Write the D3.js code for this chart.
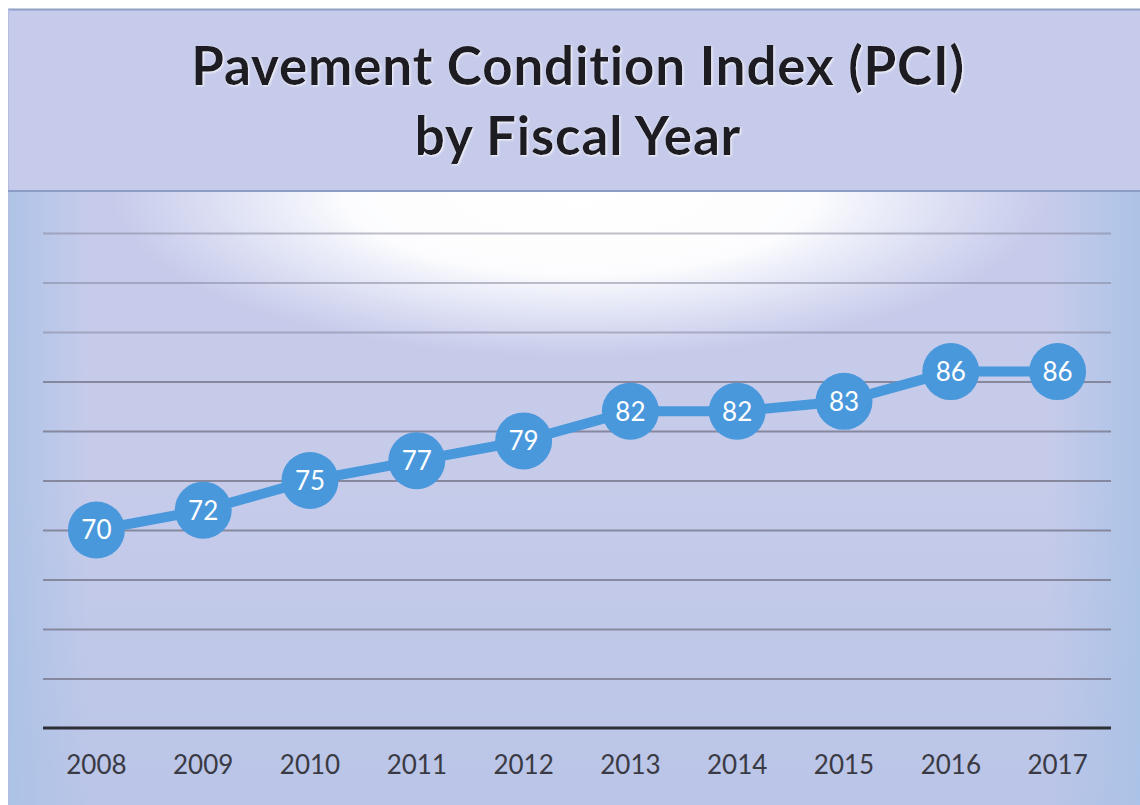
<!DOCTYPE html>
<html>
<head>
<meta charset="utf-8">
<script src="https://cdn.jsdelivr.net/npm/d3@7"></script>
<style>
  body { margin: 0; background: #fff; }
  svg { display: block; }
</style>
</head>
<body>
<svg width="1140" height="805"></svg>
<script>
// chart data
var years = ["2008", "2009", "2010", "2011", "2012", "2013", "2014", "2015", "2016", "2017"];
var pci = [70, 72, 75, 77, 79, 82, 82, 83, 86, 86];
var yTicks = [55, 60, 65, 70, 75, 80, 85, 90, 95, 100];
var yMin = 50, yMax = 100;
var titleLines = ["Pavement Condition Index (PCI)", "by Fiscal Year"];

var svg = d3.select("svg"),
    width = +svg.attr("width"),
    height = +svg.attr("height");

var plot = { left: 43, right: 1111, top: 233, bottom: 728 };

var defs = svg.append("defs");

// background gradients
var bg = defs.append("linearGradient").attr("id", "bg")
    .attr("x1", 0).attr("y1", 0).attr("x2", 0).attr("y2", 1);
bg.append("stop").attr("offset", "0%").attr("stop-color", "#c7cbeb");
bg.append("stop").attr("offset", "60%").attr("stop-color", "#c6cbea");
bg.append("stop").attr("offset", "100%").attr("stop-color", "#bac5e7");

var glow = defs.append("radialGradient").attr("id", "glow")
    .attr("cx", 0.5).attr("cy", 0).attr("r", 0.5);
glow.append("stop").attr("offset", "0%").attr("stop-color", "#ffffff").attr("stop-opacity", 1);
glow.append("stop").attr("offset", "50%").attr("stop-color", "#ffffff").attr("stop-opacity", 0.95);
glow.append("stop").attr("offset", "75%").attr("stop-color", "#f4f6fd").attr("stop-opacity", 0.55);
glow.append("stop").attr("offset", "100%").attr("stop-color", "#eef0fb").attr("stop-opacity", 0);

var sideL = defs.append("linearGradient").attr("id", "sideL")
    .attr("x1", 0).attr("y1", 0).attr("x2", 1).attr("y2", 0);
sideL.append("stop").attr("offset", "0%").attr("stop-color", "#a9c2e6").attr("stop-opacity", 0.85);
sideL.append("stop").attr("offset", "100%").attr("stop-color", "#a9c2e6").attr("stop-opacity", 0);

var sideR = defs.append("linearGradient").attr("id", "sideR")
    .attr("x1", 1).attr("y1", 0).attr("x2", 0).attr("y2", 0);
sideR.append("stop").attr("offset", "0%").attr("stop-color", "#a9c2e6").attr("stop-opacity", 0.9);
sideR.append("stop").attr("offset", "100%").attr("stop-color", "#a9c2e6").attr("stop-opacity", 0);

var halo = defs.append("filter").attr("id", "halo")
    .attr("x", "-5%").attr("y", "-20%").attr("width", "110%").attr("height", "140%");
halo.append("feDropShadow").attr("dx", 1).attr("dy", 1).attr("stdDeviation", 1.2)
    .attr("flood-color", "#ffffff").attr("flood-opacity", 0.9);

// frame
svg.append("rect")
    .attr("x", 8).attr("y", 9)
    .attr("width", width - 8).attr("height", height - 9)
    .attr("fill", "url(#bg)");

svg.append("rect")
    .attr("x", 8).attr("y", 192)
    .attr("width", 80).attr("height", height - 192)
    .attr("fill", "url(#sideL)");
svg.append("rect")
    .attr("x", width - 90).attr("y", 192)
    .attr("width", 90).attr("height", height - 192)
    .attr("fill", "url(#sideR)");

svg.append("rect")
    .attr("x", 110).attr("y", 192)
    .attr("width", 940).attr("height", 330)
    .attr("fill", "url(#glow)");

svg.append("line")
    .attr("x1", 8).attr("x2", width)
    .attr("y1", 9.5).attr("y2", 9.5)
    .attr("stroke", "#8fa0c8").attr("stroke-width", 2);
svg.append("line")
    .attr("x1", 8.5).attr("x2", 8.5)
    .attr("y1", 9).attr("y2", height)
    .attr("stroke", "#b2bde0").attr("stroke-width", 1);
svg.append("line")
    .attr("x1", 8).attr("x2", width)
    .attr("y1", 191).attr("y2", 191)
    .attr("stroke", "#8c9cc6").attr("stroke-width", 2);

// title
svg.append("g")
    .attr("filter", "url(#halo)")
  .selectAll("text")
  .data(titleLines)
  .enter().append("text")
    .attr("x", 578)
    .attr("y", function(d, i) { return 85 + i * 70; })
    .attr("text-anchor", "middle")
    .attr("font-family", "Lato, 'Open Sans', sans-serif")
    .attr("font-weight", "bold")
    .attr("font-size", 53)
    .attr("letter-spacing", 0.8)
    .attr("fill", "#1c1c22")
    .text(function(d) { return d; });

// scales
var x = d3.scaleBand()
    .domain(years)
    .range([plot.left, plot.right]);

var y = d3.scaleLinear()
    .domain([yMin, yMax])
    .range([plot.bottom, plot.top]);

var cx = function(d) { return x(d) + x.bandwidth() / 2; };

// gridlines
var grid = svg.append("g")
    .attr("transform", "translate(" + plot.left + ",0)")
    .call(d3.axisLeft(y).tickValues(yTicks).tickSize(-(plot.right - plot.left)).tickFormat(""));
grid.select(".domain").remove();
grid.selectAll(".tick line")
    .attr("stroke", "#7f8196")
    .attr("stroke-opacity", function(d) { return d >= 90 ? 0.5 : 0.9; })
    .attr("stroke-width", 2);

// baseline
svg.append("line")
    .attr("x1", plot.left).attr("x2", plot.right)
    .attr("y1", y(yMin)).attr("y2", y(yMin))
    .attr("stroke", "#2e2e36").attr("stroke-width", 3);

// x axis labels
var xAxis = svg.append("g")
    .attr("transform", "translate(0," + (y(yMin) + 28) + ")")
    .call(d3.axisBottom(x).tickSize(0).tickPadding(0));
xAxis.select(".domain").remove();
xAxis.selectAll("text")
    .attr("font-family", "Lato, 'Open Sans', sans-serif")
    .attr("font-size", 26)
    .attr("fill", "#3a3a44");

// series
var pts = years.map(function(yr, i) { return { year: yr, value: pci[i] }; });

var line = d3.line()
    .x(function(d) { return cx(d.year); })
    .y(function(d) { return y(d.value); });

svg.append("path")
    .datum(pts)
    .attr("d", line)
    .attr("fill", "none")
    .attr("stroke", "#4a98dc")
    .attr("stroke-width", 10);

var markers = svg.append("g")
  .selectAll("g")
  .data(pts)
  .enter().append("g")
    .attr("transform", function(d) { return "translate(" + cx(d.year) + "," + y(d.value) + ")"; });

markers.append("circle")
    .attr("r", 28.5)
    .attr("fill", "#4a98dc");

markers.append("text")
    .attr("text-anchor", "middle")
    .attr("dy", "0.36em")
    .attr("font-family", "Lato, 'Open Sans', sans-serif")
    .attr("font-size", 26)
    .attr("fill", "#ffffff")
    .text(function(d) { return d.value; });
</script>
</body>
</html>
